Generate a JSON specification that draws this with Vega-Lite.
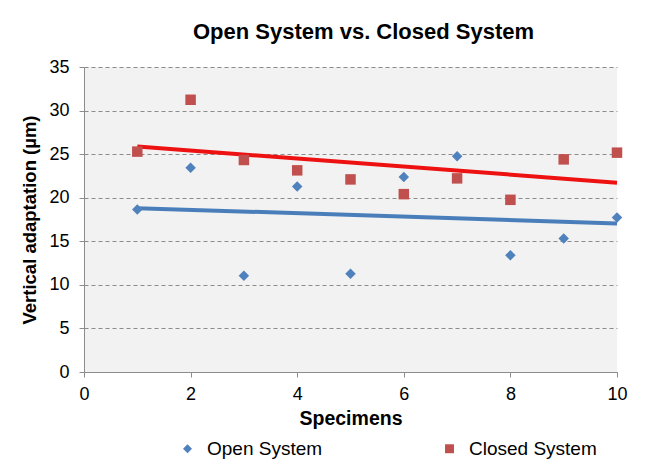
{
  "$schema": "https://vega.github.io/schema/vega-lite/v6.json",
  "width": 533,
  "height": 305,
  "autosize": "none",
  "padding": {"left": 84, "top": 67, "right": 28, "bottom": 100},
  "background": "white",
  "title": {
    "text": "Open System  vs. Closed  System",
    "font": "Liberation Sans",
    "fontSize": 22,
    "fontWeight": "bold",
    "color": "#000000",
    "offset": 14,
    "dx": 13
  },
  "config": {
    "view": {"fill": "#f2f2f2", "stroke": null},
    "font": "Liberation Sans"
  },
  "data": {
    "values": [
      {"specimen": 1, "value": 18.65, "system": "Open System"},
      {"specimen": 2, "value": 23.45, "system": "Open System"},
      {"specimen": 3, "value": 11.05, "system": "Open System"},
      {"specimen": 4, "value": 21.3, "system": "Open System"},
      {"specimen": 5, "value": 11.28, "system": "Open System"},
      {"specimen": 6, "value": 22.37, "system": "Open System"},
      {"specimen": 7, "value": 24.75, "system": "Open System"},
      {"specimen": 8, "value": 13.39, "system": "Open System"},
      {"specimen": 9, "value": 15.31, "system": "Open System"},
      {"specimen": 10, "value": 17.73, "system": "Open System"},
      {"specimen": 1, "value": 25.29, "system": "Closed System"},
      {"specimen": 2, "value": 31.24, "system": "Closed System"},
      {"specimen": 3, "value": 24.33, "system": "Closed System"},
      {"specimen": 4, "value": 23.14, "system": "Closed System"},
      {"specimen": 5, "value": 22.1, "system": "Closed System"},
      {"specimen": 6, "value": 20.41, "system": "Closed System"},
      {"specimen": 7, "value": 22.22, "system": "Closed System"},
      {"specimen": 8, "value": 19.76, "system": "Closed System"},
      {"specimen": 9, "value": 24.4, "system": "Closed System"},
      {"specimen": 10, "value": 25.17, "system": "Closed System"}
    ]
  },
  "encoding": {
    "x": {
      "field": "specimen",
      "type": "quantitative",
      "scale": {"domain": [0, 10], "nice": false},
      "axis": {
        "title": "Specimens",
        "values": [0, 2, 4, 6, 8, 10],
        "grid": false,
        "domainColor": "#8c8c8c",
        "tickColor": "#8c8c8c",
        "tickSize": 5,
        "labelFontSize": 18,
        "labelColor": "#000000",
        "labelPadding": 8,
        "titleFontSize": 19.5,
        "titleFontWeight": "bold",
        "titleColor": "#000000",
        "titlePadding": 6,
        "labelFlush": false
      }
    },
    "y": {
      "field": "value",
      "type": "quantitative",
      "scale": {"domain": [0, 35], "nice": false},
      "axis": {
        "title": "Vertical adaptation (µm)",
        "values": [0, 5, 10, 15, 20, 25, 30, 35],
        "grid": true,
        "gridColor": "#8c8c8c",
        "gridDash": [4, 3],
        "gridWidth": 1,
        "domainColor": "#8c8c8c",
        "tickColor": "#8c8c8c",
        "tickSize": 5,
        "labelFontSize": 18,
        "labelColor": "#000000",
        "labelPadding": 10,
        "titleFontSize": 18.5,
        "titleFontWeight": "bold",
        "titleColor": "#000000",
        "titlePadding": 9
      }
    }
  },
  "layer": [
    {
      "transform": [
        {"filter": "datum.system === 'Open System'"},
        {"regression": "value", "on": "specimen", "extent": [1, 10]}
      ],
      "mark": {"type": "line", "color": "#4a7ebb", "strokeWidth": 4}
    },
    {
      "transform": [
        {"filter": "datum.system === 'Closed System'"},
        {"regression": "value", "on": "specimen", "extent": [1, 10]}
      ],
      "mark": {"type": "line", "color": "#ee1111", "strokeWidth": 4}
    },
    {
      "mark": {"type": "point", "filled": true, "opacity": 1, "size": 110},
      "encoding": {
        "color": {
          "field": "system",
          "type": "nominal",
          "scale": {"domain": ["Open System", "Closed System"], "range": ["#4f81bd", "#c0504d"]},
          "legend": {
            "title": null,
            "orient": "none",
            "legendX": 94,
            "legendY": 372,
            "direction": "horizontal",
            "columns": 2,
            "columnPadding": 117,
            "labelFontSize": 19,
            "labelColor": "#000000",
            "symbolSize": 80,
            "labelOffset": 10
          }
        },
        "shape": {
          "field": "system",
          "type": "nominal",
          "scale": {"domain": ["Open System", "Closed System"], "range": ["diamond", "square"]},
          "legend": {
            "title": null,
            "orient": "none",
            "legendX": 94,
            "legendY": 372,
            "direction": "horizontal",
            "columns": 2,
            "columnPadding": 117,
            "labelFontSize": 19,
            "labelColor": "#000000",
            "symbolSize": 80,
            "labelOffset": 10
          }
        },
        "stroke": {"value": null}
      }
    }
  ]
}
